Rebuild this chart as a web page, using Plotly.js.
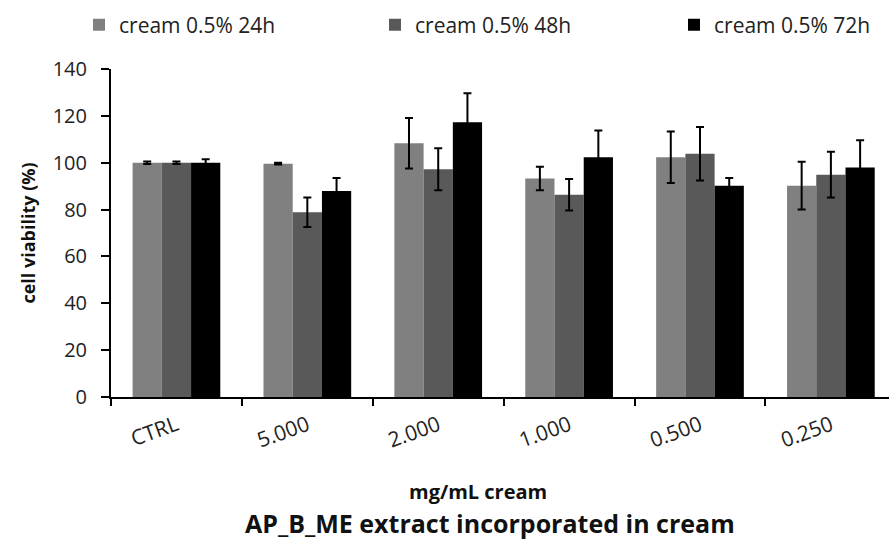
<!DOCTYPE html>
<html>
<head>
<meta charset="utf-8">
<script src="https://cdn.plot.ly/plotly-3.0.1.min.js"></script>
<style>html,body{margin:0;padding:0;background:#fff;}#chart{width:889px;height:542px;}</style>
</head>
<body>
<div id="chart"></div>
<script>
const categories = ["CTRL", "5.000", "2.000", "1.000", "0.500", "0.250"];
const seriesNames = ["cream 0.5% 24h", "cream 0.5% 48h", "cream 0.5% 72h"];
const values24h = [100, 99.6, 108.3, 93.3, 102.3, 90.2];
const errors24h = [0.5, 0.4, 10.8, 5.0, 11.0, 10.2];
const values48h = [100, 78.9, 97.2, 86.3, 103.8, 94.9];
const errors48h = [0.5, 6.3, 9.0, 6.7, 11.4, 9.8];
const values72h = [100, 87.9, 117.3, 102.3, 90.2, 98.0];
const errors72h = [1.5, 5.6, 12.4, 11.4, 3.3, 11.6];
const colors = ["#808080", "#595959", "#000000"];

const font = "'Open Sans', Lato, sans-serif";
const vals = [values24h, values48h, values72h];
const errs = [errors24h, errors48h, errors72h];
const legendIds = ["legend", "legend2", "legend3"];
const legendX = [79, 375, 674];

const traces = vals.map((v, i) => ({
  type: "bar",
  name: seriesNames[i],
  x: categories,
  y: v,
  legend: legendIds[i],
  marker: {color: colors[i], line: {width: 0}},
  error_y: {type: "data", array: errs[i], visible: true, color: "#000", thickness: 2, width: 4}
}));

const layout = {
  width: 889, height: 542,
  paper_bgcolor: "#fff", plot_bgcolor: "#fff",
  margin: {l: 111, r: 0, t: 69, b: 145},
  barmode: "group",
  bargap: 0.33,
  bargroupgap: 0,
  font: {family: font, color: "#222"},
  showlegend: true,
  xaxis: {
    type: "category",
    range: [-0.5, 5.444],
    showline: true, linecolor: "#000", linewidth: 2,
    ticks: "outside", tickson: "boundaries", ticklen: 7, tickwidth: 2, tickcolor: "#000",
    tickangle: -20,
    ticklabelstandoff: 6,
    tickfont: {family: font, size: 21, color: "#222"},
    showgrid: false, zeroline: false
  },
  yaxis: {
    range: [0, 140],
    dtick: 20,
    showline: true, linecolor: "#000", linewidth: 2,
    ticks: "outside", ticklen: 8, tickwidth: 2, tickcolor: "#000",
    ticklabelstandoff: 10,
    tickfont: {family: font, size: 20, color: "#222"},
    showgrid: false, zeroline: false,
    title: {text: "<b>cell viability (%)</b>", font: {family: font, size: 18, color: "#111"}, standoff: 12}
  },
  title: {
    text: "<b>AP_B_ME extract incorporated in cream</b>",
    font: {family: font, size: 25, color: "#111"},
    xref: "container", yref: "container",
    x: 0.551, xanchor: "center", y: 1 - 524 / 542, yanchor: "middle"
  },
  annotations: [{
    text: "<b>mg/mL cream</b>",
    xref: "paper", yref: "paper",
    x: (478 - 111) / 778, y: -(491 - 396.7) / 327.7,
    xanchor: "center", yanchor: "middle", showarrow: false,
    font: {family: font, size: 20, color: "#111"}
  }]
};

legendIds.forEach((id, i) => {
  layout[id] = {
    orientation: "h", x: legendX[i] / 889, xanchor: "left", y: 1 - 25 / 542, yanchor: "middle",
    xref: "container", yref: "container",
    itemwidth: 30,
    font: {family: font, size: 21, color: "#222"}
  };
});

Plotly.newPlot("chart", traces, layout, {displayModeBar: false, staticPlot: true});
</script>
</body>
</html>
